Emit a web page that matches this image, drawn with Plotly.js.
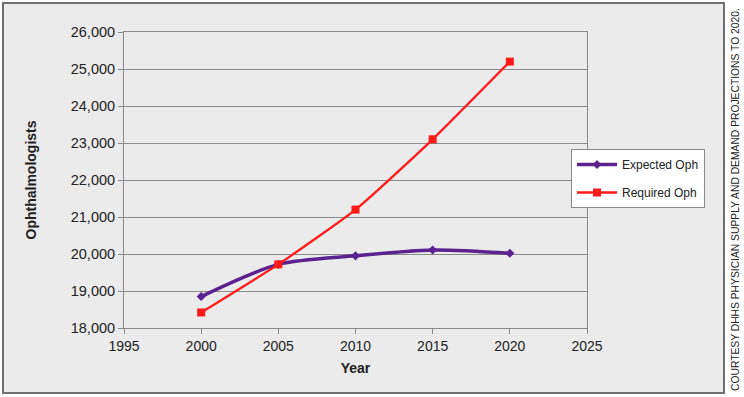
<!DOCTYPE html>
<html><head><meta charset="utf-8">
<script src="https://cdn.plot.ly/plotly-3.0.1.min.js"></script>
<style>html,body{margin:0;padding:0;background:#fff}#c{width:744px;height:397px}</style>
</head><body><div id="c"></div>
<script>
const years = [2000, 2005, 2010, 2015, 2020];
const expectedOph = [18850, 19720, 19950, 20110, 20020];
const requiredOph = [18420, 19720, 21200, 23100, 25200];
const seriesNames = ["Expected Oph", "Required Oph"];
const yTicks = [18000, 19000, 20000, 21000, 22000, 23000, 24000, 25000, 26000];
const xTicks = [1995, 2000, 2005, 2010, 2015, 2020, 2025];
const sourceNote = "COURTESY DHHS PHYSICIAN SUPPLY AND DEMAND PROJECTIONS TO 2020.";

const L = 124, R = 157, T = 32, B = 69, W = 744, H = 397;
const pw = W - L - R, ph = H - T - B;
const px = v => (v - L) / pw;
const py = v => (H - B - v) / ph;

const traces = [
  {x: years, y: expectedOph, name: seriesNames[0], type: 'scatter', mode: 'lines+markers',
   legendgroup: 'a',
   line: {color: '#5b2290', width: 3.5, shape: 'spline', smoothing: 0.8},
   marker: {symbol: 'diamond', size: 7, color: '#5b2290'}},
  {x: years, y: requiredOph, name: seriesNames[1], type: 'scatter', mode: 'lines+markers',
   legendgroup: 'b',
   line: {color: '#ff1a1a', width: 2.3, shape: 'spline', smoothing: 0.5},
   marker: {symbol: 'square', size: 8, color: '#ff1a1a'}}
];

const layout = {
  width: W, height: H,
  margin: {l: L, r: R, t: T, b: B, pad: 0},
  paper_bgcolor: '#ffffff',
  plot_bgcolor: '#f9f9f9',
  font: {family: 'Liberation Sans, Arial, sans-serif', size: 14, color: '#222'},
  showlegend: true,
  legend: {x: px(571), y: py(149), xanchor: 'left', yanchor: 'top',
           bgcolor: '#ffffff', bordercolor: '#888', borderwidth: 1,
           traceorder: 'grouped', tracegroupgap: 9, itemwidth: 40,
           font: {size: 12, color: '#222'}},
  xaxis: {range: [1995, 2025], tickvals: xTicks, ticks: 'outside', ticklen: 5,
          tickcolor: '#888', showline: true, linecolor: '#888', linewidth: 1, mirror: true,
          showgrid: false, zeroline: false, tickfont: {size: 14, color: '#222'},
          title: {text: '<b>Year</b>', font: {size: 14, color: '#222'}, standoff: 10}},
  yaxis: {range: [18000, 26000], tickvals: yTicks, tickformat: ',d', ticks: 'outside', ticklen: 5,
          tickcolor: '#888', showline: true, linecolor: '#888', linewidth: 1, mirror: true,
          showgrid: true, gridcolor: '#8a8a8a', gridwidth: 1, zeroline: false,
          tickfont: {size: 14.5, color: '#222'},
          title: {text: '<b>Ophthalmologists</b>', font: {size: 14, color: '#222'}, standoff: 30}},
  shapes: [
    {type: 'rect', xref: 'paper', yref: 'paper', layer: 'below',
     x0: px(3), x1: px(724), y0: py(393), y1: py(3),
     fillcolor: '#ebebeb', line: {color: '#707070', width: 2}}
  ],
  annotations: [
    {text: sourceNote, xref: 'paper', yref: 'paper', x: px(735), y: py(200),
     xanchor: 'center', yanchor: 'middle', textangle: -90, showarrow: false,
     font: {family: 'Liberation Sans Narrow, Arial Narrow, sans-serif', size: 10.3, color: '#222'}}
  ]
};

Plotly.newPlot('c', traces, layout, {displayModeBar: false, staticPlot: true});
</script></body></html>
